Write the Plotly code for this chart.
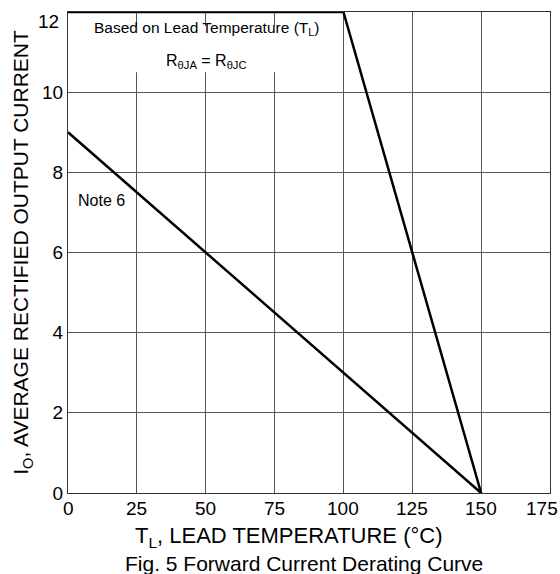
import plotly.graph_objects as go

# Data
lead_x = [0, 100, 150]          # Based on lead temperature
lead_y = [12, 12, 0]
note6_x = [0, 150]              # Note 6 curve
note6_y = [9, 0]
x_ticks = [0, 25, 50, 75, 100, 125, 150, 175]
y_ticks = [0, 2, 4, 6, 8, 10, 12]

FONT = "Liberation Sans, Arial, sans-serif"
TICKFONT = dict(family=FONT, size=19, color="black")

fig = go.Figure()
fig.add_trace(go.Scatter(x=lead_x, y=lead_y, mode="lines",
                         line=dict(color="black", width=2.5), showlegend=False,
                         cliponaxis=False))
fig.add_trace(go.Scatter(x=note6_x, y=note6_y, mode="lines",
                         line=dict(color="black", width=2.5), showlegend=False,
                         cliponaxis=False))

# white box behind annotation texts (covers gridlines)
fig.add_shape(type="rect", xref="x", yref="y", x0=7.3, x1=98.8, y0=10.5, y1=11.65,
              fillcolor="white", line=dict(width=0), layer="above")

fig.add_annotation(x=50.3, y=11.6, xref="x", yref="y",
                   text="Based on Lead Temperature (T<sub>L</sub>)",
                   showarrow=False, font=dict(family=FONT, size=15.5, color="black"))
fig.add_annotation(x=50.3, y=10.76, xref="x", yref="y",
                   text="R<sub>θJA</sub> = R<sub>θJC</sub>",
                   showarrow=False, font=dict(family=FONT, size=16, color="black"))
fig.add_annotation(x=12.0, y=7.3, xref="x", yref="y", text="Note 6",
                   showarrow=False, font=dict(family=FONT, size=16, color="black"))

# x tick labels (drawn as annotations so 175 stays visible)
for v in x_ticks:
    fig.add_annotation(x=v, y=0, xref="x", yref="y", text=str(v), showarrow=False,
                       yanchor="top", yshift=-3, xshift=(-8 if v == 175 else 0),
                       font=TICKFONT)

# axis titles / caption
fig.add_annotation(x=0.458, y=-0.091, xref="paper", yref="paper",
                   text="T<sub>L</sub>, LEAD TEMPERATURE (°C)",
                   showarrow=False, yanchor="middle",
                   font=dict(family=FONT, size=22, color="black"))
fig.add_annotation(x=0.49, y=-0.147, xref="paper", yref="paper",
                   text="Fig. 5 Forward Current Derating Curve",
                   showarrow=False, yanchor="middle",
                   font=dict(family=FONT, size=21, color="black"))

# y = 12 tick label sits slightly lower in the reference
fig.add_annotation(x=0, y=12, xref="paper", yref="y", text=str(y_ticks[-1]),
                   showarrow=False, xanchor="right", xshift=-7, yshift=-9,
                   font=TICKFONT)

fig.update_xaxes(range=[0, 175], tickvals=x_ticks, showticklabels=False, ticks="",
                 showgrid=True, gridcolor="#555", gridwidth=1, zeroline=False,
                 showline=True, linecolor="#333", linewidth=1, mirror=True)
fig.update_yaxes(range=[0, 12], tickvals=y_ticks,
                 ticktext=[str(v) if v != 12 else "" for v in y_ticks],
                 ticks="", showgrid=True,
                 gridcolor="#555", gridwidth=1, zeroline=False,
                 showline=True, linecolor="#333", linewidth=1, mirror=True,
                 tickfont=TICKFONT,
                 title=dict(text="I<sub>O</sub>, AVERAGE RECTIFIED OUTPUT CURRENT",
                            font=dict(family=FONT, size=21, color="black"),
                            standoff=7))

fig.update_layout(width=560, height=574, plot_bgcolor="white", paper_bgcolor="white",
                  margin=dict(l=68, r=10, t=12, b=81), showlegend=False)

fig.write_html("out.html")
